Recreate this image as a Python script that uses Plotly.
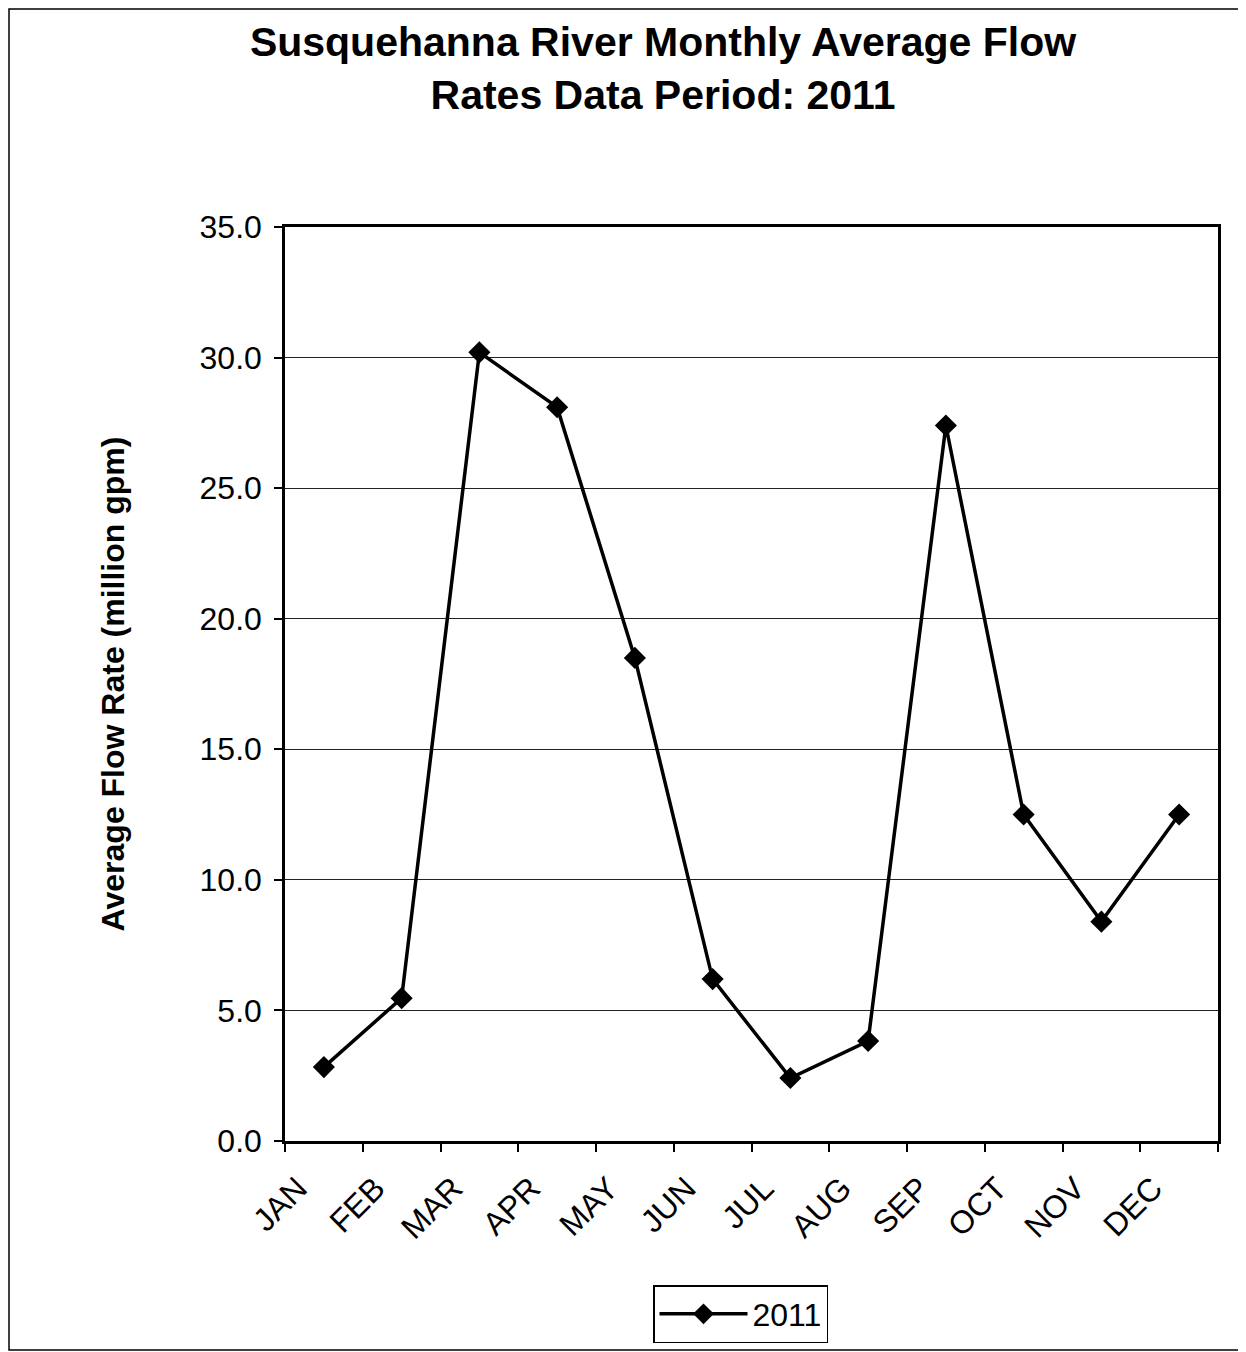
import plotly.graph_objects as go

months = ["JAN", "FEB", "MAR", "APR", "MAY", "JUN", "JUL", "AUG", "SEP", "OCT", "NOV", "DEC"]
flow_2011 = [2.83, 5.47, 30.2, 28.1, 18.5, 6.2, 2.41, 3.83, 27.4, 12.5, 8.4, 12.5]
y_ticks = [0, 5, 10, 15, 20, 25, 30, 35]

FONT = "Arial, 'Liberation Sans', sans-serif"

OFF = 8                      # browser body margin
PAGE_W, PAGE_H = 1246, 1352
W, H = PAGE_W - OFF, PAGE_H - OFF
L, R, T, B = 285, 1218, 227, 1141   # plot box in page pixels

fig = go.Figure()
fig.add_trace(go.Scatter(
    x=months, y=flow_2011, name="2011", mode="lines+markers",
    line=dict(color="black", width=3.5),
    marker=dict(symbol="diamond", size=17, color="black"),
))

def px_x(p):
    return (p - L) / (R - L)

def px_y(p):
    return (B - p) / (B - T)

fig.update_layout(
    width=W, height=H,
    margin=dict(l=L - OFF, r=PAGE_W - R, t=T - OFF, b=PAGE_H - B, autoexpand=False),
    paper_bgcolor="white", plot_bgcolor="white",
    font=dict(family=FONT, color="black", size=32),
    title=dict(
        text="<b>Susquehanna River Monthly Average Flow<br>Rates Data Period: 2011</b>",
        font=dict(size=41, family=FONT, color="black"),
        x=(663 - OFF) / W, xanchor="center", xref="container",
        y=1 - 48 / H, yanchor="middle", yref="container",
    ),
    xaxis=dict(
        type="category", range=[-0.5, len(months) - 0.5],
        tickangle=-45, tickson="boundaries",
        ticks="outside", ticklen=8, tickwidth=1.5, tickcolor="black",
        ticklabelshift=-26, ticklabelstandoff=13,
        showline=True, linecolor="black", linewidth=2.5, mirror=True,
        showgrid=False, tickfont=dict(size=32),
    ),
    yaxis=dict(
        range=[0, 35], tickvals=y_ticks, tickformat=".1f",
        ticks="outside", ticklen=8, tickwidth=1.5, tickcolor="black",
        ticklabelstandoff=6,
        showline=True, linecolor="black", linewidth=2.5, mirror=True,
        showgrid=True, gridcolor="#222222", gridwidth=1.3,
        zeroline=False, tickfont=dict(size=32),
        title=dict(text="<b>Average Flow Rate (million gpm)</b>", font=dict(size=32), standoff=66),
    ),
    showlegend=True,
    legend=dict(
        x=px_x(653), y=px_y(1285), xanchor="left", yanchor="top",
        bordercolor="black", borderwidth=1.5, bgcolor="white",
        font=dict(size=32), itemwidth=88,
    ),
)

fig.add_shape(
    type="rect", xref="paper", yref="paper",
    x0=px_x(OFF + 1), x1=px_x(1245), y0=px_y(1350), y1=px_y(OFF + 1),
    line=dict(color="black", width=1.5), layer="below",
)

fig.write_html("out.html")
